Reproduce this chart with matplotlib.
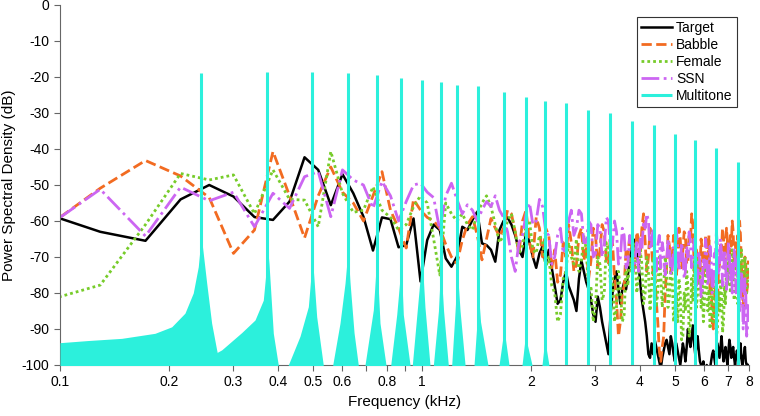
import numpy as np
import matplotlib
matplotlib.use('Agg')
import matplotlib.pyplot as plt

plt.rcParams['font.family'] = ['Liberation Sans', 'DejaVu Sans']
plt.rcParams['axes.unicode_minus'] = False

# FFT bins of the spectra (44.1 kHz, 1024 points), bins 2..185
bin_khz = 44.1 / 1024
freqs = np.arange(2, 186) * bin_khz

# bins 2..40
target_low = [-57.1, -63, -65.5, -54, -50, -53.2, -58.9, -59.7, -54.6, -42.3,
              -45.8, -55.6, -47, -52.3, -58.8, -68.2, -59, -59.5, -67.3, -66.7,
              -59.3, -76.8, -65.3, -61, -62.5, -70.4, -72.7, -69.9, -61.6, -62.5,
              -59.7, -57.4, -66.2, -66.7, -68, -71.3, -62.5, -60, -59]
# bins 41..185
target_high = [-61, -64, -68, -70, -63, -66, -70, -73, -69, -67,
               -72, -68, -73, -78, -83, -82, -77, -74, -78, -80,
               -82, -85, -76, -71, -74, -77, -79, -82, -86, -88,
               -81, -84, -88, -91, -94, -97, -86, -80, -76, -74,
               -79, -83, -79, -77, -79, -75, -71, -68, -65, -66,
               -69, -72, -77, -82, -85, -88, -92, -97, -98, -94,
               -97, -93, -95, -97, -99, -101, -98, -96, -94, -93,
               -95, -97, -92, -94, -97, -99, -94, -96, -98, -100,
               -97, -94, -96, -99, -95, -90, -93, -95, -92, -89,
               -94, -97, -95, -92, -96, -99, -100, -101, -99, -102,
               -101, -100, -102, -103, -101, -99, -97, -96, -98, -100,
               -97, -94, -96, -98, -95, -92, -96, -99, -97, -95,
               -98, -100, -96, -93, -95, -98, -96, -95, -98, -100,
               -98, -96, -97, -99, -96, -94, -98, -100, -98, -97,
               -95, -99, -100, -101, -100]

babble_low = [-63.7, -50.9, -43.2, -47.5, -53.5, -69, -62.5, -40.7, -53, -64.7,
              -53, -45, -52, -55, -60, -53, -46.3, -57, -62, -67.5,
              -54, -57, -59, -60, -62, -66.5, -70, -71.8, -65.3, -61,
              -58.8, -64, -70.8, -65, -59.3, -62, -64.3, -62, -57]
babble_high = [-58, -63, -69, -60, -57, -66, -70, -59, -62, -70,
               -62, -64, -73, -68, -77, -75, -66, -70, -61, -66,
               -74, -72, -64, -62, -71, -67, -76, -71, -62, -64,
               -73, -68, -61, -63, -71, -72, -64, -66, -76, -82,
               -92, -88, -80, -78, -68, -70, -64, -66, -74, -72,
               -63, -65, -70, -62, -58, -66, -74, -70, -62, -67,
               -75, -74, -82, -88, -96, -99, -95, -92, -80, -73,
               -64, -67, -74, -70, -64, -66, -75, -72, -62, -65,
               -73, -68, -63, -64, -72, -71, -63, -66, -58, -61,
               -72, -78, -68, -70, -77, -74, -65, -68, -76, -72,
               -64, -67, -72, -64, -80, -76, -88, -90, -82, -78,
               -86, -84, -74, -72, -66, -68, -62, -65, -72, -70,
               -62, -66, -75, -72, -64, -67, -60, -63, -72, -69,
               -66, -73, -64, -68, -60, -64, -72, -76, -84, -80,
               -70, -72, -80, -78, -71]

female_low = [-82.9, -77.8, -61, -46.8, -48.6, -47.2, -58, -45.8, -54, -54.2,
              -61.6, -40.7, -52.3, -57.6, -57, -50.5, -57, -59, -62.5, -61,
              -56, -53, -55, -65, -75, -55, -58, -60, -58, -61,
              -62.5, -58, -55, -53, -56, -61, -66, -64, -60]
female_high = [-58, -63, -69, -67, -61, -60, -68, -69, -64, -66,
               -73, -70, -78, -80, -88, -86, -76, -74, -66, -70,
               -72, -65, -74, -71, -64, -68, -80, -78, -88, -84,
               -70, -72, -82, -80, -66, -68, -78, -76, -88, -84,
               -74, -79, -88, -86, -72, -78, -70, -74, -66, -69,
               -80, -76, -68, -72, -83, -80, -70, -74, -85, -78,
               -70, -73, -84, -80, -70, -75, -84, -78, -70, -74,
               -84, -81, -72, -76, -88, -84, -80, -88, -76, -80,
               -93, -92, -80, -85, -74, -78, -92, -89, -76, -82,
               -70, -76, -84, -80, -70, -73, -84, -78, -88, -82,
               -72, -75, -85, -79, -90, -84, -78, -88, -76, -82,
               -92, -90, -80, -85, -76, -80, -91, -88, -78, -83,
               -72, -78, -70, -73, -80, -76, -68, -71, -82, -78,
               -70, -74, -83, -80, -72, -76, -68, -72, -80, -78,
               -70, -74, -80, -77, -72]

ssn_low = [-63.6, -51.2, -64.2, -50.6, -54.4, -52, -61.6, -52.3, -56.5, -47.7,
           -46.3, -58.8, -45.8, -48.6, -50, -56.5, -49, -53, -60, -54.6,
           -50, -49.5, -52, -53.5, -62.5, -53, -49.5, -54, -58, -55.5,
           -57, -60, -57, -54.6, -56, -53, -57, -59, -63]
ssn_high = [-70, -74, -66, -64, -58, -55, -61, -60, -54, -56,
            -63, -64, -72, -70, -64, -62, -69, -67, -60, -57,
            -64, -62, -57, -58, -66, -66, -60, -61, -70, -69,
            -61, -62, -70, -67, -59, -60, -68, -66, -60, -63,
            -72, -70, -62, -64, -73, -72, -64, -66, -74, -71,
            -66, -74, -65, -68, -60, -62, -58, -60, -68, -66,
            -62, -70, -74, -67, -64, -73, -66, -69, -75, -72,
            -65, -68, -75, -74, -67, -70, -62, -67, -74, -72,
            -66, -69, -76, -74, -67, -70, -63, -66, -73, -71,
            -65, -68, -78, -76, -69, -72, -81, -80, -70, -73,
            -65, -69, -78, -75, -67, -71, -80, -78, -69, -70,
            -63, -67, -75, -73, -65, -69, -78, -76, -68, -71,
            -79, -74, -66, -68, -77, -72, -80, -76, -68, -70,
            -80, -78, -70, -74, -85, -82, -74, -77, -90, -86,
            -76, -80, -92, -90, -82]

# multitone components
tone_khz = [0.245, 0.3735, 0.4975, 0.6245, 0.75, 0.876, 1.0, 1.1265, 1.2525,
            1.4315, 1.683, 1.935, 2.184, 2.492, 2.866, 3.296, 3.8, 4.363,
            4.996, 5.688, 6.47, 7.45]
tone_db = [-19, -18.5, -18.6, -19, -19.5, -20.2, -20.9, -21.5, -22.2, -22.6,
           -24.1, -25.5, -26.7, -27.3, -29.2, -30, -32.2, -33.3, -35.8, -37.5,
           -39.7, -43.5]

# leakage skirts around the lower tones (upper envelope)
skirt_khz = [
    [0.1, 0.1197, 0.1481, 0.183, 0.2035, 0.2214, 0.2334, 0.241, 0.2446, 0.2468, 0.2543, 0.2624, 0.2709, 0.2767],
    [0.2452, 0.2797, 0.3176, 0.3457, 0.3644, 0.3719, 0.3735, 0.378, 0.3884, 0.4009],
    [0.4272, 0.4603, 0.4853, 0.4959, 0.4975, 0.501, 0.5118, 0.5337],
    [0.5667, 0.5935, 0.6128, 0.6245, 0.6326, 0.649, 0.6668],
    [0.6958, 0.7337, 0.7497, 0.7656, 0.7953],
    [0.8196, 0.8514, 0.8762, 0.8879, 0.9267],
    [0.9401, 0.9767, 1.0, 1.019, 1.052],
    [1.075, 1.110, 1.1265, 1.147, 1.182],
    [1.208, 1.234, 1.2525, 1.274, 1.315],
    [1.392, 1.419, 1.4315, 1.451, 1.521],
    [1.632, 1.669, 1.683, 1.701, 1.739],
    [1.889, 1.919, 1.935, 1.95, 2.013],
    [2.145, 2.172, 2.184, 2.2, 2.242],
]
skirt_db = [
    [-93.8, -93.2, -92.6, -91.2, -89.4, -85.6, -80, -72.7, -66, -66, -77.3, -88.4, -95.8, -100],
    [-99, -95.8, -91, -87.5, -82, -72.7, -66, -72, -91.2, -100],
    [-100, -92, -83.8, -72.7, -66, -73.6, -86.6, -100],
    [-100, -88.4, -77.3, -68, -77, -91, -100],
    [-100, -84.7, -70, -88.4, -100],
    [-100, -86, -72, -86, -100],
    [-100, -81.5, -70, -84, -100],
    [-100, -85, -72, -85, -100],
    [-100, -85, -74, -85, -100],
    [-100, -88, -80, -88, -100],
    [-100, -93, -88, -93, -100],
    [-100, -94, -90, -94, -100],
    [-100, -95, -92, -95, -100],
]

xticks = [0.1, 0.2, 0.3, 0.4, 0.5, 0.6, 0.7, 0.8, 0.9, 1, 2, 3, 4, 5, 6, 7, 8]
xticklabels = ['0.1', '0.2', '0.3', '0.4', '0.5', '0.6', '', '0.8', '', '1',
               '2', '3', '4', '5', '6', '7', '8']

cyan = '#2cf0dc'

fig = plt.figure(figsize=(7.6, 4.16), dpi=100)
ax = fig.add_axes([0.0789, 0.1226, 0.9066, 0.8654])

ax.plot(freqs, target_low + target_high, color='black', lw=1.8, label='Target')
ax.plot(freqs, babble_low + babble_high, color='#f26b21', lw=2, ls='--', label='Babble')
ax.plot(freqs, female_low + female_high, color='#77cc2a', lw=2, ls=(0, (1, 1.1)), label='Female')
ax.plot(freqs, ssn_low + ssn_high, color='#cc66f2', lw=2, ls='-.', label='SSN')

for f, d in zip(skirt_khz, skirt_db):
    ax.fill_between(f, -105, d, color=cyan, lw=0, zorder=3)
ax.vlines(tone_khz, -105, tone_db, color=cyan, lw=2.2, zorder=4, label='Multitone')

ax.set_xscale('log')
ax.set_xlim(0.1, 8)
ax.set_ylim(-100, 0)
ax.set_xticks(xticks)
ax.set_xticklabels(xticklabels)
ax.minorticks_off()
ax.set_yticks(np.arange(-100, 1, 10))
ax.tick_params(direction='out', length=4, labelsize=10, color='#666666')

for s in ['top', 'right']:
    ax.spines[s].set_visible(False)
for s in ['left', 'bottom']:
    ax.spines[s].set_color('#666666')

ax.set_xlabel('Frequency (kHz)', fontsize=11)
ax.set_ylabel('Power Spectral Density (dB)', fontsize=11)

leg = ax.legend(loc='upper right', bbox_to_anchor=(0.982, 0.967), fontsize=10,
                fancybox=False, framealpha=1, edgecolor='#333333',
                handlelength=2.2, handletextpad=0.3, labelspacing=0.22,
                borderpad=0.3, borderaxespad=0)
leg.get_frame().set_linewidth(0.8)

fig.savefig('out.png', dpi=100)
